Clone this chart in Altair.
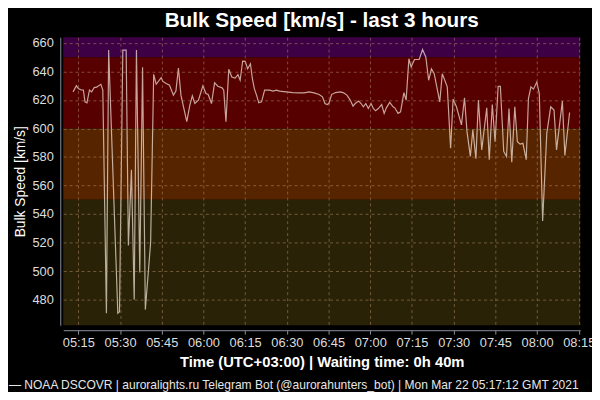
import altair as alt
import pandas as pd

# time in minutes after 05:00 (UTC+03:00)
times = [13.1, 14.3, 15.0, 16.0, 16.8, 17.4, 18.1, 19.0, 19.8, 20.7,
         21.6, 22.3, 23.1, 23.8, 25.1, 25.9, 29.2, 29.8, 31.0, 32.2,
         33.0, 34.1, 35.1, 35.9, 37.1, 38.1, 39.1, 41.0, 42.1, 43.0,
         44.8, 45.4, 46.6, 47.8, 49.2, 50.1, 51.0, 51.9, 54.0, 55.1,
         56.0, 56.9, 58.2, 59.8, 60.9, 61.7, 62.9, 64.0, 65.2, 66.7,
         67.3, 68.1, 69.1, 70.2, 71.4, 72.4, 73.2, 74.1, 75.0, 75.9,
         76.9, 77.6, 78.3, 79.1, 79.9, 80.9, 82.0, 83.8, 85.0, 86.2,
         87.4, 89.7, 92.1, 94.5, 96.2, 98.0, 99.8, 101.6, 102.8, 103.7,
         104.5, 105.1, 106.1, 107.5, 109.3, 110.4, 111.6, 112.8, 113.8, 114.6,
         115.8, 116.7, 117.5, 118.4, 119.3, 120.3, 121.1, 121.9, 122.9, 124.1,
         125.0, 125.8, 127.0, 128.2, 128.8, 130.0, 130.9, 132.1, 132.9, 133.9,
         134.7, 135.9, 137.6, 138.8, 140.0, 141.0, 142.0, 143.0, 145.0, 145.9,
         147.7, 148.9, 149.8, 151.0, 152.8, 153.9, 154.8, 156.0, 156.9, 158.0,
         158.9, 160.1, 161.9, 162.8, 163.9, 164.9, 166.0, 166.8, 168.0, 169.0,
         169.9, 170.9, 172.0, 172.9, 173.9, 174.9, 176.1, 176.9, 177.8, 178.7,
         179.9, 180.8, 182.0, 183.5, 184.9, 186.1, 187.0, 189.1, 190.0, 191.7]

speeds = [625.7, 630, 628, 627, 627, 618.7, 618, 627, 625.7, 628.7,
          629, 630, 631, 627, 470.5, 655, 470.5, 471.5, 655, 655,
          518, 571, 480, 655, 499, 643, 473, 520, 638, 631,
          635.6, 633, 631.5, 630.3, 623.4, 626.2, 642.4, 623.4, 604.8, 616.4,
          622.9, 617.5, 619.9, 629.9, 624.5, 623.8, 617.5, 632, 629.6, 628.5,
          626.9, 604.8, 641.5, 636.1, 635.4, 637.7, 633.8, 647.3, 647.1, 641.9,
          645.4, 634.9, 628, 623.4, 618, 618.7, 626.9, 626.9, 626.2, 626.9,
          626.2, 625.7, 625.2, 625, 625, 625.7, 625, 623.8, 622.2, 617.5,
          616.8, 617.5, 623.8, 625.2, 625.7, 625, 623.4, 619.9, 615.7, 617.5,
          619.2, 617.5, 615.2, 617.5, 614, 617.5, 614, 612.4, 614, 616.8,
          610.6, 614.5, 618.3, 615.2, 614.5, 610.6, 611.7, 625.2, 619.9, 648.9,
          643.1, 648.4, 648.4, 655.4, 650, 633.8, 641.9, 638.4, 618.7, 638.4,
          629.2, 586.2, 620.6, 615.2, 602.5, 621.5, 597.8, 580.4, 599, 578.8,
          619.9, 585, 614.5, 578.1, 616.8, 590.8, 629.6, 629.6, 583.9, 580.4,
          614, 576.4, 615.2, 590.8, 589, 589.6, 578.1, 621, 629.2, 627.6,
          632.6, 624.5, 535.1, 596.6, 615.2, 612.9, 585, 619.2, 581.1, 611.2]

band_low = [650, 600, 550, 462]
band_high = [664, 650, 600, 550]
band_colors = ["#3e0044", "#560000", "#572400", "#2a2206"]

x_ticks = list(range(15, 196, 15))
y_ticks = list(range(480, 661, 20))

title_text = "Bulk Speed [km/s] - last 3 hours"
x_title = "Time (UTC+03:00) | Waiting time: 0h 40m"
y_title = "Bulk Speed [km/s]"
footer = ("\u2014 NOAA DSCOVR | auroralights.ru Telegram Bot (@aurorahunters_bot) "
          "| Mon Mar 22 05:17:12 GMT 2021")

FONT = "Liberation Sans"

df = pd.DataFrame({"t": times, "v": speeds})
bands = pd.DataFrame({"lo": band_low, "hi": band_high, "c": band_colors})

xscale = alt.Scale(domain=[9.57, 195.5], nice=False, zero=False)
yscale = alt.Scale(domain=[462, 664], nice=False, zero=False)

label_expr = ("format(floor(datum.value/60)+5,'02d') + ':' + "
              "format(datum.value%60,'02d')")

xaxis = alt.Axis(values=x_ticks, labelExpr=label_expr, title=x_title,
                 offset=5, tickSize=4, labelPadding=3, titlePadding=5,
                 labelOverlap=False, labelFlush=False, zindex=1, grid=True)


def make_yaxis():
    return alt.Axis(values=y_ticks, title=y_title, offset=3, ticks=False,
                    labelPadding=7, titlePadding=5, labelOverlap=False,
                    labelFlush=False, zindex=1, grid=True)


band_layer = alt.Chart(bands).mark_rect().encode(
    y=alt.Y("lo:Q", scale=yscale, axis=make_yaxis()),
    y2="hi:Q",
    color=alt.Color("c:N", scale=None),
    x=alt.value(0),
    x2=alt.value(524),
)

line_layer = alt.Chart(df).mark_line(
    color="#fff2e6", strokeWidth=1.2, opacity=0.68, interpolate="linear"
).encode(
    x=alt.X("t:Q", scale=xscale, axis=xaxis),
    y=alt.Y("v:Q", scale=yscale, axis=make_yaxis()),
)

footer_layer = alt.Chart(pd.DataFrame({"f": [footer]})).mark_text(
    align="left", baseline="middle", font=FONT, fontSize=12.2, color="#e6e6e6"
).encode(text="f:N", x=alt.value(-55), y=alt.value(353))

chart = alt.layer(band_layer, line_layer, footer_layer).properties(
    width=524,
    height=292,
    title=alt.Title(title_text, font=FONT, fontSize=21, fontWeight="bold",
                    color="white", anchor="middle", offset=6),
    autosize=alt.AutoSizeParams(type="none"),
    padding={"left": 56, "top": 27, "right": 12, "bottom": 65},
).configure(
    background="black",
).configure_view(
    stroke=None,
).configure_axis(
    labelFont=FONT, labelFontSize=13, labelColor="#dddddd",
    titleFont=FONT, titleColor="white",
    domainColor="#8a8f9c", tickColor="#8a8f9c",
    gridColor="#b08a66", gridOpacity=0.55, gridDash=[3, 3], gridWidth=1,
).configure_axisX(
    titleFontSize=15, titleFontWeight="bold",
).configure_axisY(
    titleFontSize=14, titleFontWeight="normal",
)

chart.save("out.html", embed_options={"renderer": "svg", "actions": False})
